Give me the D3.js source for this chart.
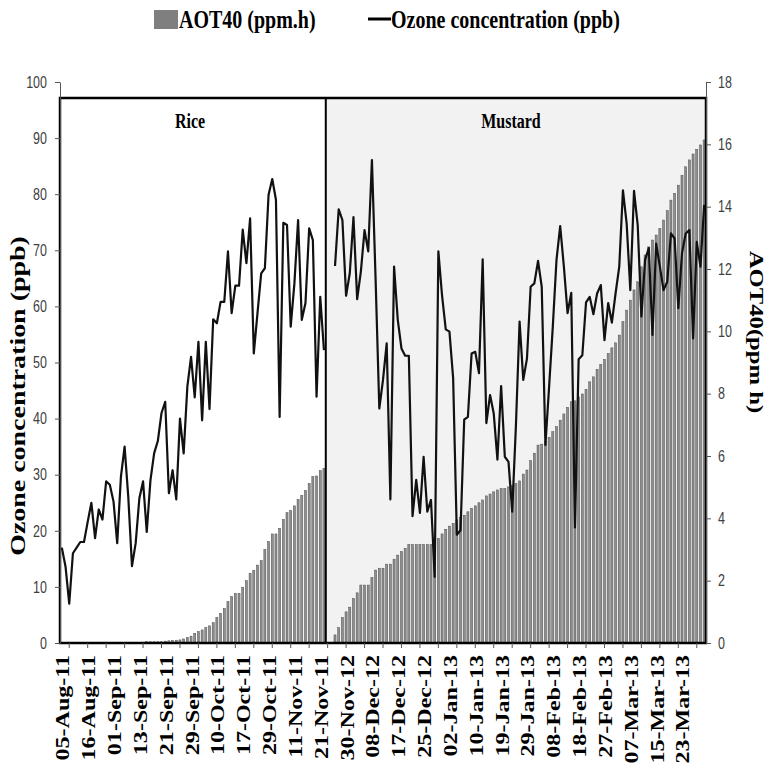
<!DOCTYPE html>
<html>
<head>
<meta charset="utf-8">
<script src="https://cdn.jsdelivr.net/npm/d3@7"></script>
<style>
  body { margin: 0; background: #fff; }
</style>
</head>
<body>
<div id="chart"></div>
<script>
// daily ozone (ppb) and cumulative AOT40 (ppm.h)
const riceOzone = [17, 13.6, 7, 16, 17, 18, 18, 21.6, 25, 18.7, 23.8, 22, 28.8, 28.2, 25.2, 17.8, 29.6, 35, 26, 13.7,
    17.8, 25.8, 28.8, 19.8, 29, 33.8, 36, 41, 43, 26.7, 30.8, 25.6, 40, 33.8, 45.7, 51, 43.8, 53.7, 39.7, 53.7,
    41.7, 57.7, 57, 60.8, 60.8, 69.8, 58.8, 63.7, 63.7, 73.7, 67.7, 75.7, 51.6, 58.8, 65.9, 66.8, 79.9, 82.7, 79, 40.3,
    74.9, 74.5, 56.4, 64.1, 75.4, 57.6, 60.6, 73.9, 71.8, 43.9, 61.7, 52.2];
const riceAOT40 = [0, 0, 0, 0, 0, 0, 0, 0, 0, 0, 0, 0, 0, 0, 0, 0, 0, 0.02, 0.02, 0.02,
    0.02, 0.02, 0.02, 0.04, 0.04, 0.04, 0.04, 0.04, 0.06, 0.07, 0.08, 0.09, 0.1, 0.13, 0.18, 0.22, 0.31, 0.37, 0.42, 0.5,
    0.55, 0.65, 0.82, 0.95, 1.11, 1.33, 1.49, 1.59, 1.59, 1.79, 2.0, 2.24, 2.33, 2.5, 2.64, 3.0, 3.25, 3.5, 3.5, 3.68,
    3.97, 4.18, 4.25, 4.4, 4.61, 4.74, 4.89, 5.12, 5.34, 5.36, 5.53, 5.6];
const mustardOzone = [67.2, 77.3, 75.4, 61.9, 65.9, 75.9, 61.3, 66.2, 73.6, 69.8, 86.1, 64.7, 41.8, 46.9, 53.4, 25.6, 67.1, 57.6, 52.5, 51.2,
    51.2, 22.6, 29.1, 23.2, 33.2, 23.4, 25.5, 11.8, 69.8, 61.9, 55.9, 55.5, 47.2, 19.3, 20.1, 39.8, 40.3, 51.6, 51.9, 48.1,
    68.4, 39.2, 44.2, 40.9, 32.7, 45.8, 33.2, 32.3, 23.4, 38.6, 57.3, 46.9, 50.7, 63.5, 64.1, 68.1, 63.5, 35.3, 45.7, 56.4,
    68.3, 74.3, 67.1, 58.8, 62.4, 20.6, 50.6, 51.3, 60.7, 61.7, 58.6, 62.3, 63.8, 54, 60.6, 57.1, 62.3, 67.1, 80.7, 74.8,
    62.9, 80.6, 74.5, 58.2, 68.3, 70.4, 54.9, 71.2, 67.1, 62.9, 64.4, 73, 72.1, 59.7, 69.5, 73, 73.6, 54.3, 71.5, 67.1,
    78.1];
const mustardAOT40 = [0.26, 0.49, 0.82, 1.0, 1.15, 1.43, 1.61, 1.86, 1.86, 1.86, 2.1, 2.34, 2.4, 2.4, 2.53, 2.53, 2.69, 2.82, 2.93, 3.04,
    3.16, 3.16, 3.16, 3.16, 3.16, 3.16, 3.16, 3.16, 3.36, 3.5, 3.65, 3.75, 3.84, 3.95, 4.03, 4.1, 4.21, 4.32, 4.4, 4.5,
    4.59, 4.72, 4.78, 4.85, 4.91, 4.96, 4.96, 5.01, 5.05, 5.12, 5.2, 5.42, 5.55, 5.85, 6.09, 6.35, 6.38, 6.46, 6.6, 6.78,
    6.94, 7.15, 7.35, 7.56, 7.74, 7.77, 7.9, 7.99, 8.14, 8.38, 8.54, 8.78, 8.94, 9.1, 9.29, 9.47, 9.63, 9.88, 10.31, 10.68,
    11.0, 11.33, 11.59, 12.07, 12.45, 12.71, 12.93, 13.09, 13.3, 13.57, 13.87, 14.21, 14.43, 14.69, 15.01, 15.28, 15.5, 15.69, 15.84, 15.98,
    16.14];
const gapDays = 2;
const tickLabels = ['05-Aug-11', '16-Aug-11', '01-Sep-11', '13-Sep-11', '21-Sep-11', '29-Sep-11', '10-Oct-11', '17-Oct-11',
    '29-Oct-11', '11-Nov-11', '21-Nov-11', '30-Nov-12', '08-Dec-12', '17-Dec-12', '25-Dec-12', '02-Jan-13', '10-Jan-13',
    '19-Jan-13', '29-Jan-13', '08-Feb-13', '18-Feb-13', '27-Feb-13', '07-Mar-13', '15-Mar-13', '23-Mar-13'];
const labelEvery = 7;
const tickEvery = 5;
const cropNames = ['Rice', 'Mustard'];

const gap = new Array(gapDays).fill(null);
const ozone = riceOzone.concat(gap, mustardOzone);
const aot = riceAOT40.concat(gap, mustardAOT40);
const n = ozone.length;

const width = 772, height = 776;
const plotL = 60, plotR = 706, plotT = 82, plotB = 643, frameTop = 98;
const stretch = 1.3; // the original figure is stretched vertically
const serif = '"Liberation Serif", "Times New Roman", serif';

const svg = d3.select('#chart').append('svg')
    .attr('width', width)
    .attr('height', height);

const x = d3.scaleBand().domain(d3.range(n)).range([plotL, plotR]);
const bw = x.bandwidth();
const yL = d3.scaleLinear().domain([0, 100]).range([plotB, plotT]);
const yR = d3.scaleLinear().domain([0, 18]).range([plotB, plotT]);
const divider = x(riceOzone.length);

// mustard background
svg.append('rect')
    .attr('x', divider).attr('y', frameTop)
    .attr('width', plotR - divider).attr('height', plotB - frameTop)
    .attr('fill', '#f2f2f2');

// AOT40 bars
svg.append('g')
    .selectAll('rect')
    .data(aot.map((v, i) => ({ v, i })).filter(d => d.v > 0))
    .join('rect')
    .attr('x', d => x(d.i) + bw * 0.22)
    .attr('width', bw * 0.56)
    .attr('y', d => yR(d.v))
    .attr('height', d => plotB - yR(d.v))
    .attr('fill', '#8e8e8e')
    .attr('stroke', '#505050')
    .attr('stroke-width', 0.5);

// ozone line
const line = d3.line()
    .defined(d => d != null)
    .x((d, i) => x(i) + bw / 2)
    .y(d => yL(d));
svg.append('path')
    .datum(ozone)
    .attr('fill', 'none')
    .attr('stroke', '#111')
    .attr('stroke-width', 2.2)
    .attr('stroke-linejoin', 'round')
    .attr('d', line);

// frame and divider
svg.append('rect')
    .attr('x', plotL).attr('y', frameTop)
    .attr('width', plotR - plotL).attr('height', plotB - frameTop)
    .attr('fill', 'none').attr('stroke', '#000').attr('stroke-width', 2.5);
svg.append('line')
    .attr('x1', divider).attr('x2', divider)
    .attr('y1', frameTop).attr('y2', plotB)
    .attr('stroke', '#000').attr('stroke-width', 2);

// y axes
function styleAxis(g) {
    g.select('.domain').attr('stroke', '#555');
    g.selectAll('.tick line').attr('stroke', '#555');
    g.selectAll('.tick text')
        .attr('fill', '#404040')
        .attr('font-family', '"Liberation Sans", Arial, sans-serif')
        .attr('font-size', 12.5)
        .attr('transform', `scale(1,${stretch})`);
}
svg.append('g')
    .attr('transform', `translate(${plotL},0)`)
    .call(d3.axisLeft(yL).ticks(10).tickSize(5).tickSizeOuter(0).tickPadding(8))
    .call(styleAxis);
svg.append('g')
    .attr('transform', `translate(${plotR},0)`)
    .call(d3.axisRight(yR).ticks(9).tickSize(5).tickSizeOuter(0).tickPadding(7))
    .call(styleAxis);

// x ticks
svg.append('g')
    .attr('transform', `translate(0,${plotB})`)
    .call(d3.axisBottom(x)
        .tickValues(d3.range(2, n, tickEvery))
        .tickSize(5).tickSizeOuter(0).tickFormat(''))
    .call(g => g.select('.domain').remove())
    .call(g => g.selectAll('.tick line').attr('stroke', '#555'));

// x labels
svg.append('g')
    .selectAll('g')
    .data(tickLabels)
    .join('g')
    .attr('transform', (d, k) => `translate(${x(k * labelEvery) + bw / 2 + 1},655) scale(1,${stretch})`)
    .append('text')
    .attr('transform', 'rotate(-90)')
    .attr('text-anchor', 'end')
    .attr('dy', '0.35em')
    .attr('font-family', serif)
    .attr('font-weight', 'bold')
    .attr('font-size', 18.5)
    .text(d => d);

// texts with the vertical stretch
function label(tx, ty, str, size, anchor, rot) {
    svg.append('g')
        .attr('transform', `translate(${tx},${ty}) scale(1,${stretch})`)
        .append('text')
        .attr('transform', rot ? `rotate(${rot})` : null)
        .attr('text-anchor', anchor)
        .attr('dy', rot ? '0.35em' : null)
        .attr('font-family', serif)
        .attr('font-weight', 'bold')
        .attr('font-size', size)
        .text(str);
}
label(190, 128, cropNames[0], 16, 'middle');
label(511, 128, cropNames[1], 16, 'middle');
label(17, 396, 'Ozone concentration (ppb)', 21.5, 'middle', -90);
label(757, 332, 'AOT40(ppm h)', 19, 'middle', 90);

// legend
svg.append('rect')
    .attr('x', 154).attr('y', 10).attr('width', 24).attr('height', 19)
    .attr('fill', '#7f7f7f');
label(179, 28, 'AOT40 (ppm.h)', 20, 'start');
svg.append('line')
    .attr('x1', 368).attr('x2', 391).attr('y1', 19).attr('y2', 19)
    .attr('stroke', '#000').attr('stroke-width', 3);
label(391, 28, 'Ozone concentration (ppb)', 20, 'start');
</script>
</body>
</html>
